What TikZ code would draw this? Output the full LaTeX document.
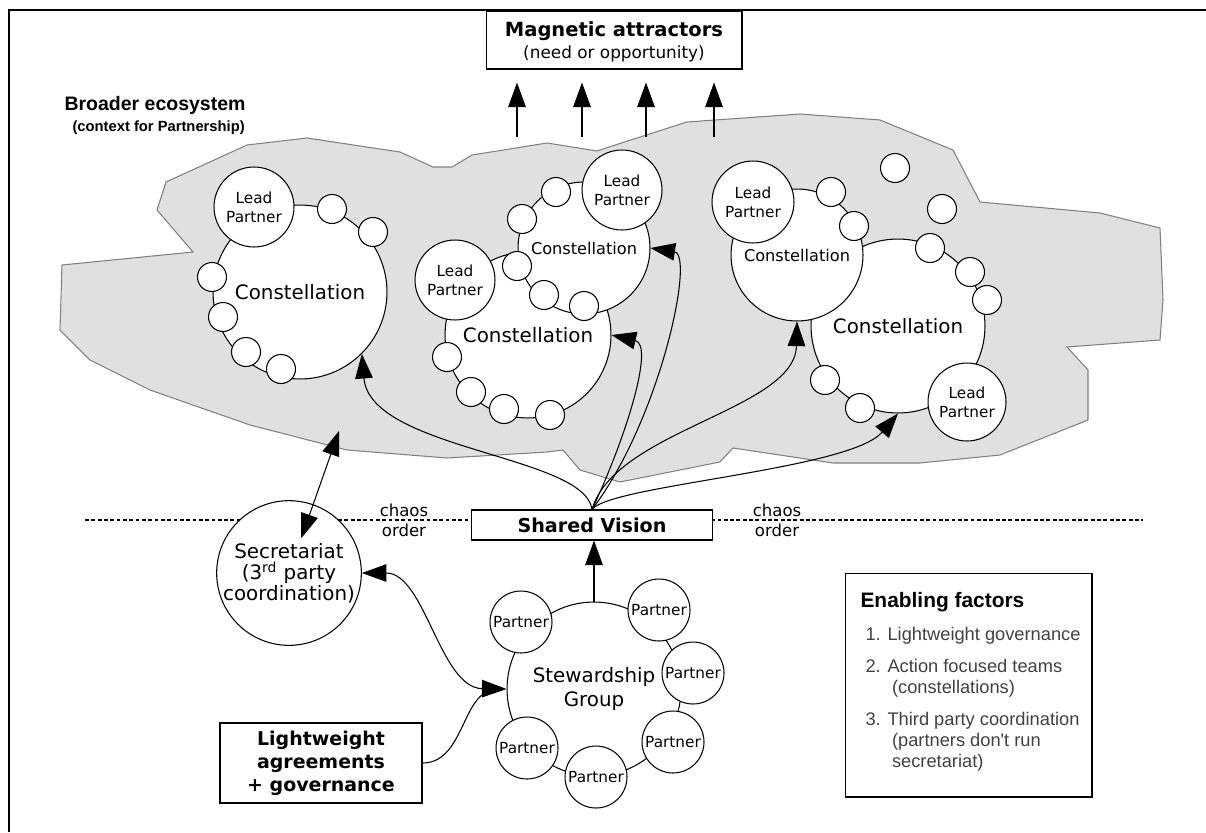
\documentclass[tikz,border=0pt]{standalone}
\usepackage{fontspec}
\setmainfont{DejaVu Sans}
\newfontfamily\helv{Liberation Sans}
\usetikzlibrary{arrows.meta}
\newcommand\bigsz{\fontsize{11.3}{13.5}\selectfont}
\newcommand\midsz{\fontsize{9.2}{11}\selectfont}
\newcommand\leadsz{\fontsize{8.7}{10.8}\selectfont}
\begin{document}
\begin{tikzpicture}[x=0.02cm,y=-0.02cm,line width=0.6pt,
  >={Triangle[length=14pt,width=10pt]},
  every node/.style={inner sep=0pt,align=center},
  ring/.style={circle,draw,fill=white,minimum size=#1*0.04cm},
  dot/.style={ring=14.5},
  box/.style={draw,fill=white},
  eco/.style={draw=gray,fill=black!12}]
\useasboundingbox (0,0) rectangle (1206,832);
% frame
\draw[line width=1.2pt] (9,832) -- (9,10) -- (1206,10);
% broader ecosystem
\draw[eco] (166,182) -- (247,145) -- (307,138) -- (400,152) -- (433,167) -- (452,167)
  -- (472,155) -- (547,143) -- (597,151) -- (612,146) -- (687,122) -- (800,114)
  -- (880,120) -- (953,150) -- (980,202) -- (1100,213) -- (1160,228) -- (1163,300)
  -- (1160,340) -- (1067,347) -- (1088,370) -- (1088,420) -- (1000,455) -- (920,463)
  -- (833,463) -- (733,448) -- (720,462) -- (620,482) -- (580,470) -- (563,450)
  -- (547,452) -- (447,458) -- (347,450) -- (250,425) -- (150,390) -- (90,360)
  -- (60,330) -- (62,265) -- (193,252) -- (157,210) -- cycle;
\node[anchor=west,font=\helv\bfseries\fontsize{11.1}{13}\selectfont] (broad) at (64,105) {Broader ecosystem};
\node[anchor=west,font=\helv\bfseries\fontsize{8.4}{10}\selectfont] (ctx) at (72,128) {(context for Partnership)};
% magnetic attractors
\node[box,minimum width=5.12cm,minimum height=1.16cm] (mag) at (614,40) {};
\node[font=\bfseries\fontsize{11.1}{13}\selectfont] (magt) at (614,31) {Magnetic attractors};
\node[font=\fontsize{9.6}{11}\selectfont] (mags) at (614,54) {(need or opportunity)};
\foreach \x [count=\i] in {517,582,646,714} {
  \coordinate (m\i) at (\x,137);
  \draw[->,shorten >=7.4pt] (m\i) -- (m\i |- mag.south);
}
% left constellation
\node[ring=87,font=\bigsz] (c1) at (300,292) {Constellation};
\node[ring=40,font=\leadsz] (l1) at (254,207) {Lead\\Partner};
\foreach \x/\y [count=\i] in {332/209,373/232,212/277,223/317,246/352,281/369}
  \node[dot] (a\i) at (\x,\y) {};
% middle constellations
\node[ring=83,font=\bigsz] (c2) at (528,335) {Constellation};
\foreach \x/\y [count=\i] in {447/357,471/392,504/409,550/415}
  \node[dot] (b\i) at (\x,\y) {};
\node[ring=66,font=\midsz] (c3) at (584,248) {\raisebox{-2pt}{Constellation}};
\foreach \x/\y [count=\i] in {556/192,522/219,517/266,544/295,584/306}
  \node[dot] (d\i) at (\x,\y) {};
\node[ring=40,font=\leadsz] (l2) at (455,280) {Lead\\Partner};
\node[ring=40,font=\leadsz] (l3) at (622,190) {Lead\\Partner};
% right constellations
\node[ring=87,font=\bigsz] (c5) at (898,326) {Constellation};
\foreach \x/\y [count=\i] in {930/248,970/272,987/300,825/380,860/408}
  \node[dot] (e\i) at (\x,\y) {};
\node[ring=39,font=\leadsz] (l5) at (967,402) {Lead\\Partner};
\node[ring=66,font=\midsz] (c4) at (797,255) {Constellation};
\node[ring=41,font=\leadsz] (l4) at (753,202) {Lead\\Partner};
\foreach \x/\y [count=\i] in {831/192,854/226,895/168,942/209}
  \node[dot] (f\i) at (\x,\y) {};
% chaos / order
\draw[dashed,dash pattern=on 2.2pt off 1.4pt] (85,520) -- (1143,520);
\foreach \x [count=\i] in {404,777} {
  \node[font=\fontsize{9.4}{11}\selectfont] (ch\i) at (\x,510) {chaos};
  \node[font=\fontsize{9.4}{11}\selectfont] (or\i) at (\x,530) {order};
}
% shared vision
\node[box,minimum width=4.82cm,minimum height=0.6cm,font=\bfseries\fontsize{10.9}{13}\selectfont] (sv) at (592,525) {Shared Vision};
\draw[->] (sv.north) .. controls (585,455) and (370,450) .. (c1.-45);
\draw[->] (sv.north) .. controls (625,440) and (655,345) .. (c2.east);
\draw[->] (sv.north) .. controls (660,420) and (695,255) .. (c3.east);
\draw[->] (sv.north) .. controls (615,430) and (795,410) .. (c4.south);
\draw[->] (sv.north) .. controls (610,485) and (850,470) .. (c5.south);
% secretariat
\node[ring=69,font=\bigsz,align=center] (sec) at (289,573)
  {Secretariat\\[-1.5pt](3\textsuperscript{rd} party\\[-1.5pt]coordination)};
\coordinate (edge) at (339,431);
\draw[<->,shorten >=21pt] (edge) -- (sec.center);
% stewardship group
\node[ring=87,font=\bigsz] (sg) at (594,689) {Stewardship\\Group};
\foreach \x/\y [count=\i] in {521/622,659/610,693/673,673/742,596/777,527/748}
  \node[ring=31,font=\leadsz] (p\i) at (\x,\y) {Partner};
\draw[->] (sg.north) -- (sg.north |- sv.south);
\draw[<->] (sec.east) .. controls (425,573) and (440,688) .. (sg.west);
% lightweight agreements
\node[box,minimum width=4.04cm,minimum height=1.6cm,font=\bfseries\fontsize{10.8}{13}\selectfont] (lw) at (321,763)
  {Lightweight\\agreements\\+ governance};
\coordinate (join) at (489,691);
\draw (lw.east) .. controls (462,763) and (462,700) .. (join);
% enabling factors
\node[draw,minimum width=4.94cm,minimum height=4.48cm] (ef) at (968.5,685) {};
\node[anchor=west,font=\helv\bfseries\fontsize{11.9}{14}\selectfont] (eft) at (860,602) {Enabling factors};
\begin{scope}[every node/.style={anchor=west,inner sep=0pt,align=left,text=black!75,font=\helv\fontsize{10.4}{12}\selectfont}]
\node (ef1) at (865,636) {1. Lightweight governance};
\node (ef2) at (865,678) {2. Action focused teams\\\hspace*{1.45em}(constellations)};
\node (ef3) at (865,742) {3. Third party coordination\\\hspace*{1.45em}(partners don't run\\\hspace*{1.45em}secretariat)};
\end{scope}
\end{tikzpicture}
\end{document}
